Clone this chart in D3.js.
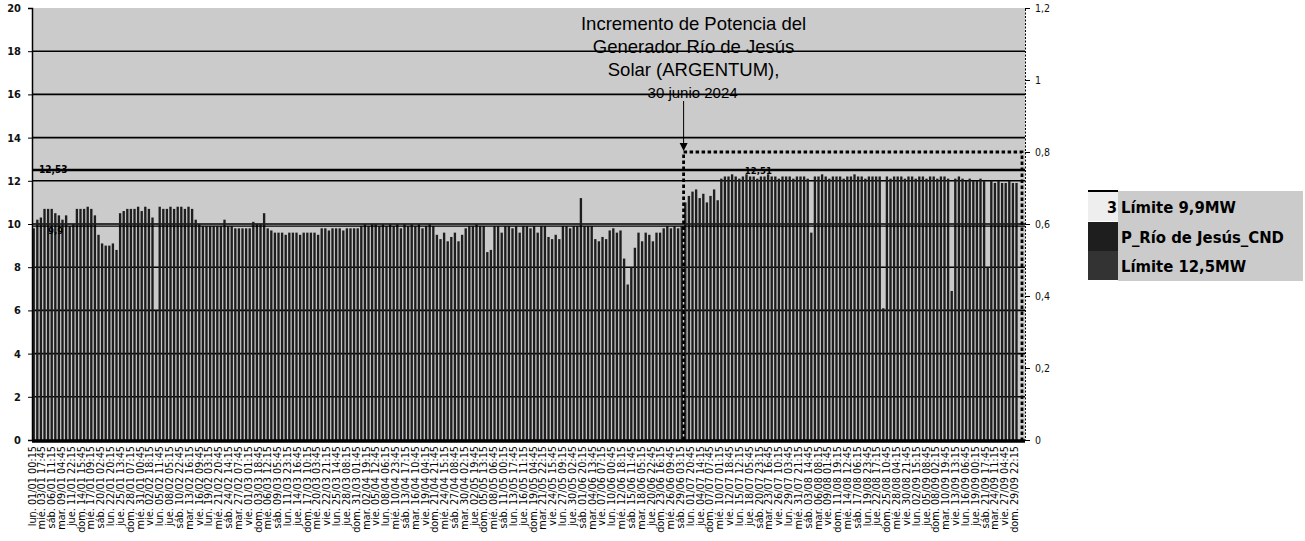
<!DOCTYPE html>
<html><head><meta charset="utf-8">
<script src="https://cdn.jsdelivr.net/npm/d3@7"></script>
<style>body{margin:0;background:#fff;overflow:hidden}</style>
</head><body><svg id="c" width="1305" height="541"></svg>
<script>
// Daily peak of P_Río de Jesús_CND (MW), one value per day, 2024
const ene=[9.8,10.2,10.3,10.7,10.7,10.7,10.5,10.4,10.2,10.4,9.9,10.0,10.7,10.7,10.7,10.8,10.7,10.4,9.5,9.1,9.0,9.0,9.1,8.8,10.5,10.6,10.7,10.7,10.7,10.8,10.6];
const feb=[10.8,10.7,10.3,6.0,10.8,10.7,10.7,10.8,10.7,10.8,10.8,10.7,10.8,10.7,10.2,10.0,9.9,9.9,9.9,9.9,9.9,9.9,10.2,9.9,9.9,9.8,9.8,9.8,9.8];
const mar=[9.8,10.1,10.0,10.0,10.5,9.8,9.7,9.6,9.6,9.6,9.5,9.6,9.6,9.6,9.5,9.6,9.6,9.6,9.6,9.5,9.8,9.8,9.7,9.8,9.8,9.8,9.7,9.8,9.8,9.8,9.8];
const abr=[9.9,10.0,9.9,10.0,10.0,9.9,10.0,9.9,10.0,9.9,10.0,9.8,10.0,9.9,10.0,9.9,10.0,9.8,9.9,10.0,9.9,9.5,9.3,9.6,9.2,9.4,9.6,9.2,9.5,9.8];
const may=[9.9,9.9,10.0,9.9,9.9,8.7,8.8,9.9,9.9,9.6,9.9,9.9,9.8,9.9,9.6,9.9,9.9,9.8,9.9,9.6,9.9,9.9,9.4,9.3,9.5,9.3,9.9,9.9,9.8,9.9,9.9];
const jun=[11.2,9.9,9.9,9.9,9.3,9.2,9.4,9.3,9.7,9.8,9.6,9.7,8.4,7.2,8.0,8.9,9.6,9.2,9.6,9.5,9.2,9.6,9.6,9.8,9.9,9.8,9.9,9.8,9.9,11.0];
const jul=[11.3,11.5,11.6,11.2,11.4,11.0,11.3,11.6,11.1,12.1,12.2,12.2,12.3,12.2,12.1,12.2,12.3,12.2,12.2,12.1,12.2,12.2,12.3,12.2,12.2,12.1,12.2,12.2,12.2,12.1,12.2];
const ago=[12.2,12.2,12.1,9.6,12.2,12.2,12.3,12.2,12.1,12.2,12.2,12.2,12.1,12.2,12.2,12.3,12.2,12.2,12.1,12.2,12.2,12.2,12.2,6.1,12.2,12.1,12.2,12.2,12.2,12.1,12.2];
const sep=[12.2,12.1,12.2,12.2,12.1,12.2,12.2,12.1,12.2,12.2,12.1,6.9,12.1,12.2,12.1,12.0,12.1,12.0,12.0,12.1,12.0,8.0,12.0,11.9,12.0,11.9,11.9,12.0,11.9,11.9];

const limite99 = 9.9;
const limite125 = 12.5;
const labelLimite125 = "12,53";
const labelLimite99 = "9,9";
const labelMax = "12,51";
const dayIncremento = 181; // 30 junio 2024

const leftTicks=[0,2,4,6,8,10,12,14,16,18,20];
const rightTicks=[0,0.2,0.4,0.6,0.8,1,1.2];
const rightTickLabels=["0","0,2","0,4","0,6","0,8","1","1,2"];

const catLabels=["lun. 01/01 00:15","mié. 03/01 17:45","sáb. 06/01 11:15","mar. 09/01 04:45","jue. 11/01 22:15","dom. 14/01 15:45","mié. 17/01 09:15","sáb. 20/01 02:45","lun. 22/01 20:15","jue. 25/01 13:45","dom. 28/01 07:15","mié. 31/01 00:45","vie. 02/02 18:15","lun. 05/02 11:45","jue. 08/02 05:15","sáb. 10/02 22:45","mar. 13/02 16:15","vie. 16/02 09:45","lun. 19/02 03:15","mié. 21/02 20:45","sáb. 24/02 14:15","mar. 27/02 07:45","vie. 01/03 01:15","dom. 03/03 18:45","mié. 06/03 12:15","sáb. 09/03 05:45","lun. 11/03 23:15","jue. 14/03 16:45","dom. 17/03 10:15","mié. 20/03 03:45","vie. 22/03 21:15","lun. 25/03 14:45","jue. 28/03 08:15","dom. 31/03 01:45","mar. 02/04 19:15","vie. 05/04 12:45","lun. 08/04 06:15","mié. 10/04 23:45","sáb. 13/04 17:15","mar. 16/04 10:45","vie. 19/04 04:15","dom. 21/04 21:45","mié. 24/04 15:15","sáb. 27/04 08:45","mar. 30/04 02:15","jue. 02/05 19:45","dom. 05/05 13:15","mié. 08/05 06:45","sáb. 11/05 00:15","lun. 13/05 17:45","jue. 16/05 11:15","dom. 19/05 04:45","mar. 21/05 22:15","vie. 24/05 15:45","lun. 27/05 09:15","jue. 30/05 02:45","sáb. 01/06 20:15","mar. 04/06 13:45","vie. 07/06 07:15","lun. 10/06 00:45","mié. 12/06 18:15","sáb. 15/06 11:45","mar. 18/06 05:15","jue. 20/06 22:45","dom. 23/06 16:15","mié. 26/06 09:45","sáb. 29/06 03:15","lun. 01/07 20:45","jue. 04/07 14:15","dom. 07/07 07:45","mié. 10/07 01:15","vie. 12/07 18:45","lun. 15/07 12:15","jue. 18/07 05:45","sáb. 20/07 23:15","mar. 23/07 16:45","vie. 26/07 10:15","lun. 29/07 03:45","mié. 31/07 21:15","sáb. 03/08 14:45","mar. 06/08 08:15","vie. 09/08 01:45","dom. 11/08 19:15","mié. 14/08 12:45","sáb. 17/08 06:15","lun. 19/08 23:45","jue. 22/08 17:15","dom. 25/08 10:45","mié. 28/08 04:15","vie. 30/08 21:45","lun. 02/09 15:15","jue. 05/09 08:45","dom. 08/09 02:15","mar. 10/09 19:45","vie. 13/09 13:15","lun. 16/09 06:45","jue. 19/09 00:15","sáb. 21/09 17:45","mar. 24/09 11:15","vie. 27/09 04:45","dom. 29/09 22:15"];

const annotation=["Incremento de Potencia del","Generador Río de Jesús","Solar (ARGENTUM),"];
const annotationDate="30 junio 2024";
const legendNames=["Límite 9,9MW","P_Río de Jesús_CND","Límite 12,5MW"];

// ---------------------------------------------------------------
const months=[ene,feb,mar,abr,may,jun,jul,ago,sep];
const values=months.flat();
const monthOffset=[]; {let o=0; months.forEach(m=>{monthOffset.push(o); o+=m.length;});}
function labelDay(s){ // "lun. 01/01 00:15" -> fractional day index
  const m=s.match(/(\d\d)\/(\d\d) (\d\d):(\d\d)/);
  return monthOffset[+m[2]-1] + (+m[1]-1) + ((+m[3])*60 + (+m[4]))/1440;
}

const svg=d3.select("#c");
const L=32, R=1022, T=8, B=440;
const x=d3.scaleLinear().domain([0,275]).range([L,R]);
const y=d3.scaleLinear().domain([0,20]).range([B,T]);
const yR=d3.scaleLinear().domain([0,1.2]).range([B,T]);
const BG="#cbcbcb", BAR="#1e1e1e";
const FONT="'DejaVu Sans Condensed','DejaVu Sans',sans-serif";

// plot background
svg.append("rect").attr("x",L).attr("y",T).attr("width",R-L+3).attr("height",B-T).attr("fill",BG);

// gridlines
svg.append("g").selectAll("line").data(leftTicks.filter(v=>v>0&&v<20)).join("line")
  .attr("x1",L).attr("x2",R+3).attr("y1",d=>y(d)).attr("y2",d=>y(d))
  .attr("stroke","#000").attr("stroke-width",1.6);

// bars (one per day)
svg.append("g").selectAll("rect").data(values).join("rect")
  .attr("x",(d,i)=>x(i+0.15)).attr("width",x(0.65)-x(0))
  .attr("y",d=>y(d)).attr("height",d=>y(0)-y(d))
  .attr("fill",BAR);

// limit lines
svg.append("line").attr("x1",L).attr("x2",R+3).attr("y1",y(limite125)).attr("y2",y(limite125))
  .attr("stroke","#000").attr("stroke-width",2.4);
svg.append("line").attr("x1",L).attr("x2",R+3).attr("y1",y(limite99)).attr("y2",y(limite99))
  .attr("stroke","#000").attr("stroke-width",1.2);
svg.append("text").attr("x",L+7).attr("y",y(limite125)+3).attr("font-family",FONT).attr("font-size",10).attr("font-weight","bold").text(labelLimite125);
svg.append("text").attr("x",L+16).attr("y",y(limite99)+8).attr("font-family",FONT).attr("font-size",9.5).attr("font-weight","bold").text(labelLimite99);
svg.append("text").attr("x",x(198)).attr("y",y(limite125)+4).attr("font-family",FONT).attr("font-size",9.5).attr("font-weight","bold").text(labelMax);

// left axis
const gl=svg.append("g").attr("transform",`translate(${L},0)`)
  .call(d3.axisLeft(y).tickValues(leftTicks).tickSize(4).tickPadding(7).tickFormat(d3.format("d")));
gl.select(".domain").attr("stroke","#000").attr("stroke-width",1.5);
gl.selectAll("text").attr("font-family",FONT).attr("font-size",11).attr("font-weight","bold").attr("fill","#111");

// right axis
const gr=svg.append("g").attr("transform",`translate(${R+3},0)`)
  .call(d3.axisRight(yR).tickValues(rightTicks).tickSize(5).tickPadding(5).tickFormat((d,i)=>rightTickLabels[i]));
gr.select(".domain").attr("stroke","#000").attr("stroke-width",1).attr("stroke-dasharray","2,1.5");
gr.selectAll("text").attr("font-family",FONT).attr("font-size",10.5).attr("fill","#111");

// bottom axis line
svg.append("line").attr("x1",L).attr("x2",R+3).attr("y1",B+1).attr("y2",B+1).attr("stroke","#000").attr("stroke-width",3.5);

// category labels
svg.append("g").selectAll("text").data(catLabels).join("text")
  .attr("transform",d=>`translate(${x(labelDay(d))+3.5},${B+6}) rotate(-90)`)
  .attr("text-anchor","end").attr("font-family",FONT).attr("font-size",10.8).attr("fill","#000")
  .text(d=>d);

// dashed box after increment
const bx=x(dayIncremento), bTop=yR(0.8);
svg.append("path").attr("d",`M${bx},${B} V${bTop} H${R} V${B}`)
  .attr("fill","none").attr("stroke","#000").attr("stroke-width",2.8).attr("stroke-dasharray","3.5,2.5");

// annotation
const ann=svg.append("g").attr("font-family","'Liberation Sans',Arial,sans-serif").attr("fill","#000").attr("text-anchor","middle");
annotation.forEach((t,i)=>ann.append("text").attr("x",bx+10).attr("y",30+i*23).attr("font-size",18.5).text(t));
ann.append("text").attr("x",bx+9).attr("y",98).attr("font-size",15).text(annotationDate);
svg.append("line").attr("x1",bx).attr("x2",bx).attr("y1",101).attr("y2",bTop-8).attr("stroke","#000").attr("stroke-width",1);
svg.append("path").attr("d",`M${bx-4},${bTop-9} L${bx+4},${bTop-9} L${bx},${bTop-1} Z`).attr("fill","#000");

// legend
const lg=svg.append("g");
lg.append("rect").attr("x",1118).attr("y",191).attr("width",185).attr("height",90).attr("fill",BG);
lg.append("rect").attr("x",1088).attr("y",192).attr("width",30).attr("height",29).attr("fill","#eee");
lg.append("line").attr("x1",1088).attr("x2",1118).attr("y1",191).attr("y2",191).attr("stroke","#000").attr("stroke-width",2);
lg.append("text").attr("x",1117).attr("y",213).attr("text-anchor","end").attr("font-family",FONT).attr("font-size",16).attr("font-weight","bold").text("3");
lg.append("rect").attr("x",1088).attr("y",222).attr("width",30).attr("height",29).attr("fill",BAR);
lg.append("rect").attr("x",1088).attr("y",251).attr("width",30).attr("height",29).attr("fill","#333");
legendNames.forEach((t,i)=>lg.append("text").attr("x",1121).attr("y",213+i*29.5)
  .attr("font-family",FONT).attr("font-size",16.5).attr("font-weight","bold").attr("fill","#000").text(t));
</script></body></html>
